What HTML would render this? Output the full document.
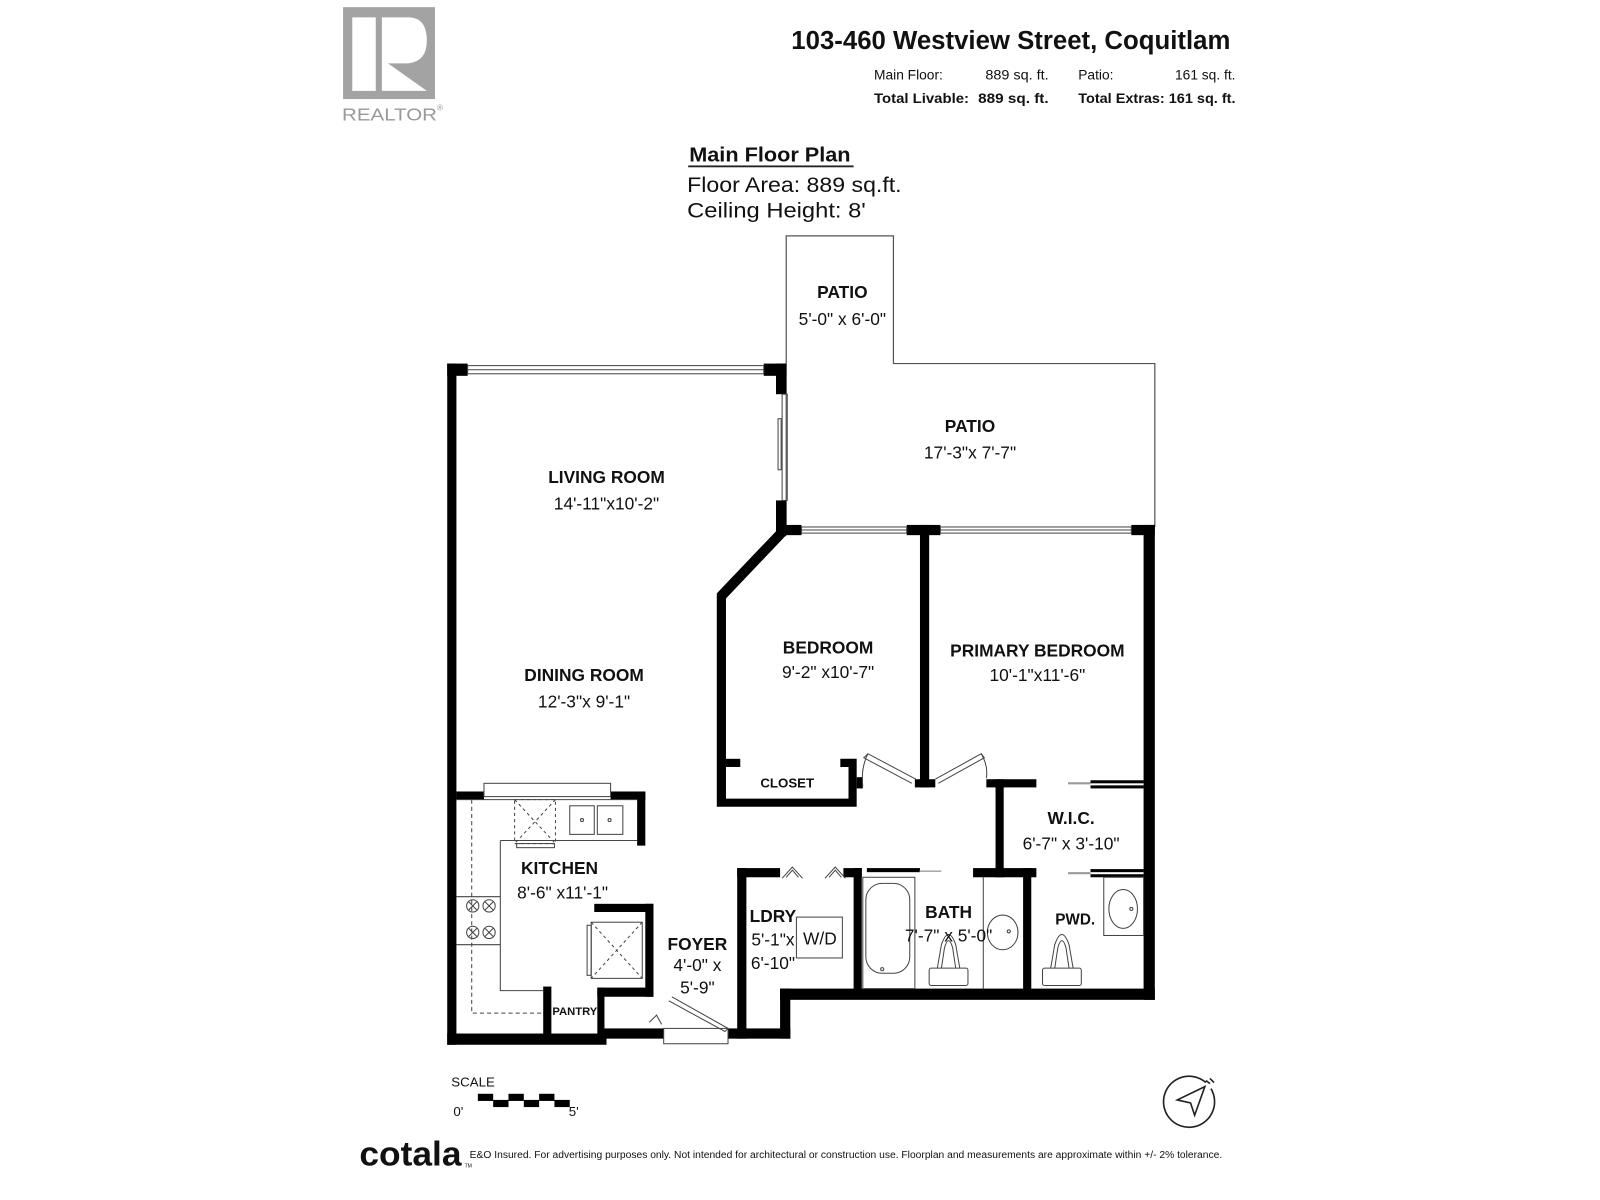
<!DOCTYPE html>
<html><head><meta charset="utf-8"><style>
html,body{margin:0;padding:0;background:#fff;}
svg{display:block;}
text{font-family:"Liberation Sans",sans-serif;fill:#111;}
</style></head><body>
<svg width="1600" height="1200" viewBox="0 0 1567 1175" preserveAspectRatio="none" xmlns="http://www.w3.org/2000/svg">
<rect width="1567" height="1175" fill="#fff"/>
<!-- Realtor logo -->
<rect x="336" y="7" width="90" height="90" fill="#a3a3a3"/>
<rect x="345" y="17" width="23" height="72" fill="#fff"/>
<path d="M374 17 H400 Q418 17 418 40 Q418 60 400 62 H380 V89 H374 Z" fill="#fff"/>
<path d="M380 62 L418 89 H380 Z" fill="#fff"/>
<path d="M380 60 L412 89" stroke="#a3a3a3" stroke-width="0"/>
<text x="335" y="118" font-size="17" style="fill:#999" textLength="93" lengthAdjust="spacingAndGlyphs">REALTOR</text>
<text x="428" y="108" font-size="8" style="fill:#999">®</text>
<!-- header -->
<text x="1205" y="48" font-size="25" font-weight="bold" text-anchor="end" textLength="430" lengthAdjust="spacingAndGlyphs">103-460 Westview Street, Coquitlam</text>
<g font-size="13.5">
<text x="856" y="78">Main Floor:</text><text x="965" y="78" textLength="62" lengthAdjust="spacingAndGlyphs">889 sq. ft.</text>
<text x="1056" y="78">Patio:</text><text x="1210" y="78" text-anchor="end">161 sq. ft.</text>
<text x="856" y="101" font-weight="bold" textLength="93" lengthAdjust="spacingAndGlyphs">Total Livable:</text>
<text x="958" y="101" font-weight="bold" textLength="69" lengthAdjust="spacingAndGlyphs">889 sq. ft.</text>
<text x="1056" y="101" font-weight="bold" textLength="154" lengthAdjust="spacingAndGlyphs">Total Extras: 161 sq. ft.</text>
</g>
<text x="675" y="158" font-size="20" font-weight="bold" textLength="158" lengthAdjust="spacingAndGlyphs">Main Floor Plan</text>
<rect x="674" y="162" width="162" height="1.8" fill="#222"/>
<text x="673" y="188" font-size="21" textLength="210" lengthAdjust="spacingAndGlyphs">Floor Area: 889 sq.ft.</text>
<text x="673" y="213" font-size="21" textLength="175" lengthAdjust="spacingAndGlyphs">Ceiling Height: 8'</text>

<!-- patio outlines -->
<path d="M770 356 V231 H875 V356 H1131 V516" fill="none" stroke="#555" stroke-width="1.2"/>
<line x1="770" y1="356" x2="770" y2="516" stroke="#555" stroke-width="1.2"/>

<g fill="#000">
<!-- living top wall blocks -->
<rect x="438" y="356" width="20" height="12"/>
<rect x="748" y="356" width="22" height="12"/>
<!-- left outer wall -->
<rect x="438" y="356" width="9" height="667"/>
<!-- living right wall -->
<rect x="760" y="356" width="10" height="30"/>
<rect x="760" y="490" width="10" height="35"/>
<!-- bedroom top wall blocks -->
<rect x="760" y="514" width="25" height="10"/>
<rect x="888" y="514" width="33" height="10"/>
<rect x="1108" y="514" width="23" height="10"/>
<!-- partition -->
<rect x="901" y="514" width="9" height="257"/>
<rect x="896" y="763" width="20" height="8"/>
<!-- right outer wall -->
<rect x="1120" y="514" width="11" height="465"/>
<!-- bedroom angled + left wall + closet -->
<path d="M760 520 L770 524 L711 586 V782 H831 V751 H823 V743 H839 V790 H702 V581 L764 516 Z"/>
<rect x="711" y="743" width="14" height="8"/>
<rect x="839" y="761" width="6" height="11"/>
<!-- WIC walls -->
<rect x="966" y="763" width="49" height="8"/>
<rect x="975" y="763" width="8" height="96"/>
<rect x="1068" y="764" width="52" height="3"/>
<rect x="1068" y="769" width="52" height="3"/>
<!-- bath/wic bottom-top wall -->
<rect x="722" y="850" width="42" height="9"/>
<rect x="826" y="850" width="18" height="9"/>
<rect x="849" y="850" width="52" height="4"/>
<rect x="953" y="850" width="62" height="9"/>
<rect x="1068" y="851" width="52" height="3"/>
<rect x="1068" y="856" width="52" height="3"/>
<!-- ldry/bath walls -->
<rect x="722" y="850" width="9" height="167"/>
<rect x="836" y="850" width="8" height="120"/>
<rect x="1002" y="850" width="8" height="120"/>
<rect x="764" y="968" width="367" height="11"/>
<rect x="764" y="968" width="10" height="49"/>
<rect x="713" y="1007" width="61" height="10"/>
<!-- kitchen walls -->
<rect x="447" y="775" width="27" height="8"/>
<rect x="598" y="775" width="34" height="8"/>
<rect x="624" y="775" width="8" height="53"/>
<rect x="582" y="885" width="58" height="8"/>
<rect x="632" y="885" width="8" height="91"/>
<rect x="585" y="967" width="55" height="9"/>
<rect x="585" y="967" width="7" height="52"/>
<rect x="532" y="966" width="8" height="52"/>
<rect x="438" y="1012" width="156" height="11"/>
<rect x="592" y="1007" width="58" height="10"/>
</g>

<g fill="none" stroke="#444" stroke-width="1">
<!-- windows -->
<rect x="458" y="358" width="290" height="8"/><line x1="458" y1="362" x2="748" y2="362"/>
<rect x="785" y="516" width="103" height="6"/><line x1="785" y1="519" x2="888" y2="519"/>
<rect x="921" y="516" width="187" height="6"/><line x1="921" y1="519" x2="1108" y2="519"/>
<!-- living sliding door -->
<rect x="766" y="386" width="5" height="104"/>
<rect x="762" y="410" width="3" height="50"/>
<!-- bedroom doors -->
<path d="M897 763 L850 738 L846 742 L893 767"/>
<path d="M850 738 Q843 752 845 770"/>
<path d="M916 763 L961 738 L964 742 L919 767"/>
<path d="M961 738 Q968 750 966 762"/>
<line x1="1046" y1="767" x2="1068" y2="767" stroke="#999" stroke-width="2"/>
<line x1="1046" y1="855" x2="1068" y2="855" stroke="#999" stroke-width="2"/>
<line x1="900" y1="853" x2="922" y2="853" stroke="#777"/>
<!-- ldry doors -->
<path d="M766 860 L776 849 L786 860 M770 859 L776 852 L782 859"/>
<path d="M808 860 L818 849 L828 860 M812 859 L818 852 L824 859"/>
<!-- W/D -->
<rect x="780" y="898" width="45" height="40"/>
<!-- bath fixtures -->
<rect x="845" y="859" width="51" height="109"/>
<rect x="848" y="865" width="43" height="88" rx="16"/>
<circle cx="864" cy="949" r="1.5"/>
<line x1="963" y1="859" x2="963" y2="968"/>
<path d="M918 948 L922 925 Q929 905 936 925 L940 948 M922 948 L925 928 Q929 914 933 928 L936 948"/>
<rect x="910" y="948" width="38" height="17" rx="2"/>
<ellipse cx="982" cy="913" rx="15" ry="17"/>
<circle cx="988" cy="912" r="1.5"/>
<!-- pwd -->
<path d="M1029 948 L1033 925 Q1040 905 1047 925 L1051 948 M1033 948 L1036 928 Q1040 914 1044 928 L1047 948"/>
<rect x="1021" y="948" width="38" height="17" rx="2"/>
<rect x="1081" y="859" width="39" height="57"/>
<ellipse cx="1100" cy="890" rx="14" ry="19"/>
<circle cx="1108" cy="890" r="1.5"/>
<!-- kitchen -->
<rect x="474" y="767" width="124" height="13"/>
<path d="M447 783 H624 M490 823 H624 M490 823 V970 H532 M447 878 H490 M447 925 H490"/>
<path d="M462 783 V992 H532" stroke-dasharray="4 3"/>
<rect x="504" y="783" width="40" height="43" stroke-dasharray="3 3"/>
<path d="M504 783 L544 826 M544 783 L504 826" stroke-dasharray="3 3"/>
<rect x="506" y="826" width="37" height="4"/>
<rect x="558" y="789" width="24" height="28"/><rect x="585" y="789" width="25" height="28"/>
<circle cx="570" cy="803" r="1.5"/><circle cx="597" cy="803" r="1.5"/>
<g><circle cx="463" cy="887" r="6"/><circle cx="479" cy="887" r="6"/><circle cx="463" cy="913" r="6"/><circle cx="479" cy="913" r="6"/>
<path d="M459 883 L467 891 M467 883 L459 891 M475 883 L483 891 M483 883 L475 891 M459 909 L467 917 M467 909 L459 917 M475 909 L483 917 M483 909 L475 917"/></g>
<rect x="579" y="903" width="50" height="55"/>
<rect x="575" y="906" width="4" height="49"/>
<path d="M579 903 L629 958 M629 903 L579 958" stroke-dasharray="3 3"/>
<!-- entry door -->
<rect x="650" y="1007" width="63" height="15"/>
<path d="M658 976 L713 1007 L710 1010 L655 980"/>
<path d="M636 1001 L643 994 L648 1003"/>
</g>

<!-- labels -->
<g text-anchor="middle" font-size="17">
<text x="825" y="292" font-weight="bold">PATIO</text>
<text x="825" y="318">5'-0" x 6'-0"</text>
<text x="950" y="423" font-weight="bold">PATIO</text>
<text x="950" y="449">17'-3"x 7'-7"</text>
<text x="594" y="473" font-weight="bold">LIVING ROOM</text>
<text x="594" y="499">14'-11"x10'-2"</text>
<text x="572" y="667" font-weight="bold">DINING ROOM</text>
<text x="572" y="693">12'-3"x 9'-1"</text>
<text x="811" y="640" font-weight="bold">BEDROOM</text>
<text x="811" y="664">9'-2" x10'-7"</text>
<text x="1016" y="643" font-weight="bold">PRIMARY BEDROOM</text>
<text x="1016" y="667">10'-1"x11'-6"</text>
<text x="771" y="771" font-size="13" font-weight="bold">CLOSET</text>
<text x="1049" y="807" font-weight="bold">W.I.C.</text>
<text x="1049" y="832">6'-7" x 3'-10"</text>
<text x="548" y="856" font-weight="bold">KITCHEN</text>
<text x="551" y="880">8'-6" x11'-1"</text>
<text x="683" y="930" font-weight="bold">FOYER</text>
<text x="683" y="951">4'-0" x</text>
<text x="683" y="973">5'-9"</text>
<text x="757" y="903" font-weight="bold">LDRY</text>
<text x="757" y="926">5'-1"x</text>
<text x="757" y="949">6'-10"</text>
<text x="803" y="925">W/D</text>
<text x="929" y="899" font-weight="bold">BATH</text>
<text x="929" y="922">7'-7" x 5'-0"</text>
<text x="1053" y="905" font-size="15" font-weight="bold">PWD.</text>
<text x="563" y="994" font-size="11" font-weight="bold">PANTRY</text>
</g>

<!-- scale -->
<text x="442" y="1064" font-size="13">SCALE</text>
<g fill="#000">
<rect x="468" y="1071" width="15" height="7"/><rect x="483" y="1077" width="15" height="7"/>
<rect x="498" y="1071" width="15" height="7"/><rect x="513" y="1077" width="15" height="7"/>
<rect x="528" y="1071" width="15" height="7"/><rect x="543" y="1077" width="15" height="7"/>
</g>
<text x="444" y="1093" font-size="13">0'</text>
<text x="557" y="1093" font-size="13">5'</text>
<!-- compass -->
<g fill="none" stroke="#222" stroke-width="1.6">
<path d="M1181 1060 A25 25 0 1 0 1186 1066"/>
<path d="M1180 1064 L1153 1077 L1166 1080 L1170 1092 Z"/>
<path d="M1181 1058 L1185 1061 M1185 1056 L1189 1060"/>
</g>
<!-- footer -->
<text x="352" y="1141" font-size="34" font-weight="bold" textLength="100" lengthAdjust="spacingAndGlyphs">cotala</text>
<text x="455" y="1143" font-size="5">TM</text>
<text x="460" y="1134" font-size="9.5" textLength="737" lengthAdjust="spacingAndGlyphs">E&amp;O Insured. For advertising purposes only. Not intended for architectural or construction use. Floorplan and measurements are approximate within +/- 2% tolerance.</text>
</svg>
</body></html>
